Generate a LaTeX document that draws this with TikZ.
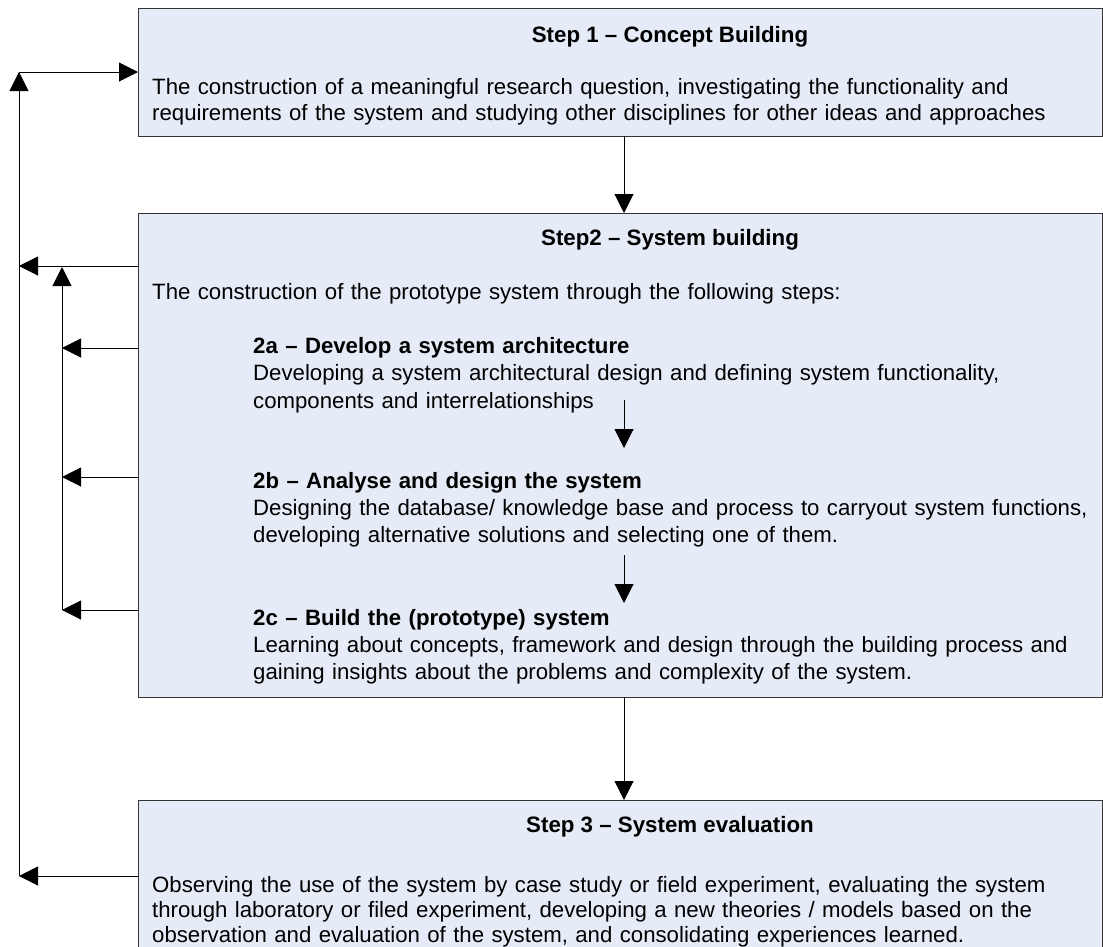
\documentclass[tikz,border=0pt]{standalone}
\usepackage{fontspec}
\setmainfont{Liberation Sans}
\usetikzlibrary{arrows.meta}
\definecolor{boxfill}{HTML}{E5ECF7}
\definecolor{edge}{HTML}{333333}

\begin{document}
\begin{tikzpicture}[x=1pt,y=-1pt,
  stepbox/.style={draw=edge, line width=1pt, fill=boxfill, anchor=north west,
    inner sep=0pt, outer sep=0pt, minimum width=964.5pt},
  title/.style={font=\fontsize{22.3}{26}\selectfont\bfseries, anchor=base, inner sep=0pt},
  body/.style={font=\fontsize{22.2}{#1}\selectfont, anchor=base west, inner sep=0pt,
    text width=945pt, align=left},
  body/.default=26,
  flow/.style={draw=black, line width=1pt, -{Triangle[length=19pt,width=19pt]}}]

\useasboundingbox (0,0) rectangle (1103,946);

% the three step boxes
\node[stepbox, minimum height=128pt] (s1) at (138,8) {};
\node[stepbox, minimum height=484pt] (s2) at (138,213) {};
\node[stepbox, minimum height=160pt] (s3) at (138,800) {};

% step 1
\node[title] (t1) at (670,42) {Step 1 – Concept Building};
\node[body] (b1) at (152,94) {The construction of a meaningful research question, investigating the functionality and\\
requirements of the system and studying other disciplines for other ideas and approaches};

% step 2
\node[title] (t2) at (670,245) {Step2 – System building};
\node[body] (b2) at (152,299) {The construction of the prototype system through the following steps:};
\node[body=27.5] (b2a) at (253,353) {\textbf{2a – Develop a system architecture}\\
Developing a system architectural design and defining system functionality,\\
components and interrelationships};
\node[body=27] (b2b) at (253,488) {\textbf{2b – Analyse and design the system}\\
Designing the database/ knowledge base and process to carryout system functions,\\
developing alternative solutions and selecting one of them.};
\node[body=27] (b2c) at (253,625) {\textbf{2c – Build the (prototype) system}\\
Learning about concepts, framework and design through the building process and\\
gaining insights about the problems and complexity of the system.};

% step 3
\node[title] (t3) at (670,832) {Step 3 – System evaluation};
\node[body=25] (b3) at (152,892) {Observing the use of the system by case study or field experiment, evaluating the system\\
through laboratory or filed experiment, developing a new theories / models based on the\\
observation and evaluation of the system, and consolidating experiences learned.};

% main downward flow
\coordinate (mid) at (624,0);
\draw[flow] (s1.south -| mid) -- (s2.north -| mid);
\draw[flow] (s2.south -| mid) -- (s3.north -| mid);

% sub-steps inside step 2
\coordinate (a1s) at (624,400);
\coordinate (a1e) at (624,448);
\coordinate (a2s) at (624,555);
\coordinate (a2e) at (624,603);
\draw[flow] (a1s) -- (a1e);
\draw[flow] (a2s) -- (a2e);

% outer feedback loop
\coordinate (fbTop) at (19,72);
\coordinate (fbS2) at (19,266);
\coordinate (fbBottom) at (19,876);
\draw[flow] (s3.west |- fbBottom) -- (fbBottom);
\draw[flow] (fbBottom) -- (fbTop);
\draw[flow] (fbTop) -- (s1.west |- fbTop);
\draw[flow] (s2.west |- fbS2) -- (fbS2);

% inner feedback loop
\coordinate (inTop) at (62,267);
\coordinate (in2a) at (62,348);
\coordinate (in2b) at (62,477);
\coordinate (in2c) at (62,610);
\draw[flow] (s2.west |- in2a) -- (in2a);
\draw[flow] (s2.west |- in2b) -- (in2b);
\draw[flow] (s2.west |- in2c) -- (in2c);
\draw[flow] (in2c) -- (inTop);
\end{tikzpicture}
\end{document}
